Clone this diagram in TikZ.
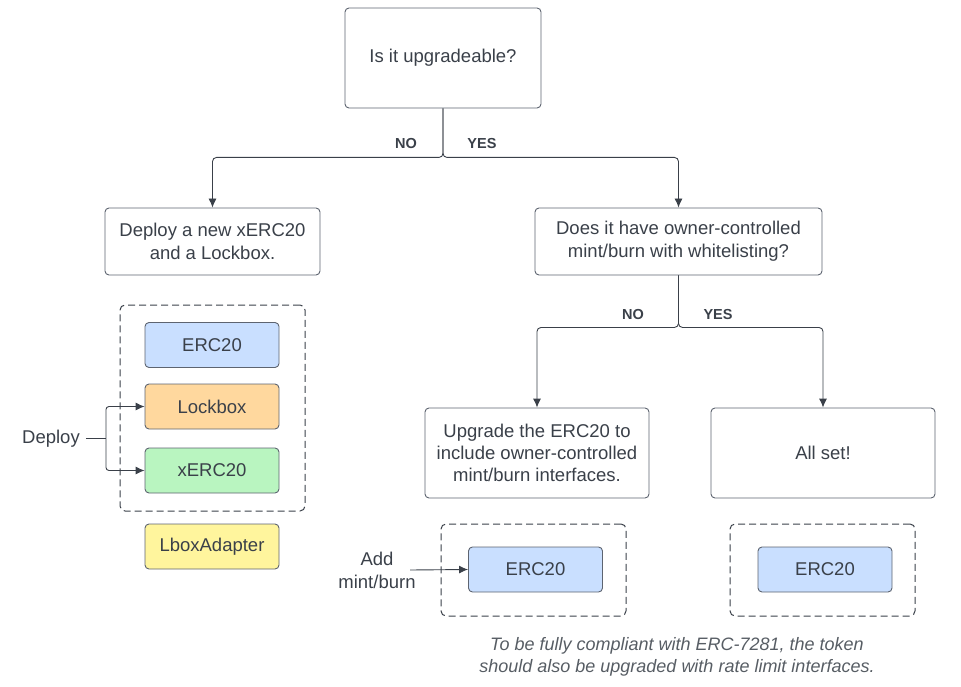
\documentclass[tikz,border=0pt]{standalone}
\usepackage{fontspec}
\setmainfont{Liberation Sans}
\usepackage{tikz}
\usetikzlibrary{arrows.meta}

\definecolor{ink}{HTML}{3A4049}
\definecolor{edge}{HTML}{5D6470}
\definecolor{bluefill}{HTML}{C9DFFF}
\definecolor{orangefill}{HTML}{FFD89E}
\definecolor{greenfill}{HTML}{B9F5C0}
\definecolor{yellowfill}{HTML}{FFF59D}

\begin{document}
\begin{tikzpicture}[x=1pt,y=-1pt]
\tikzset{Q/.style={draw=edge,line width=0.9pt,rounded corners=4pt,fill=white,
    text=ink,align=center,font=\fontsize{18.5}{23}\selectfont,inner sep=0pt},
  T/.style={draw=edge,line width=0.9pt,rounded corners=4pt,text=ink,
    minimum width=134pt,minimum height=45pt,inner sep=0pt,font=\fontsize{18.5}{21}\selectfont},
  G/.style={draw=ink,line width=1pt,dash pattern=on 7pt off 4pt,rounded corners=5pt,inner sep=0pt},
  L/.style={text=ink,font=\bfseries\fontsize{14.5}{16}\selectfont},
  arr/.style={draw=ink,line width=0.9pt,-{Latex[length=9pt,width=8pt]}}}

  \useasboundingbox (0,0) rectangle (961,687);

  % questions and answers
  \node[Q,minimum width=196pt,minimum height=100pt] (q1) at (443,58) {Is it upgradeable?};
  \node[Q,minimum width=215pt,minimum height=67pt] (newx) at (212.5,241.5) {Deploy a new xERC20\\and a Lockbox.};
  \node[Q,minimum width=287pt,minimum height=67pt] (q2) at (678.5,241.5) {Does it have owner-controlled\\mint/burn with whitelisting?};
  \node[Q,minimum width=224pt,minimum height=90pt,font=\fontsize{18.5}{22}\selectfont] (upg) at (537,453) {Upgrade the ERC20 to\\include owner-controlled\\mint/burn interfaces.};
  \node[Q,minimum width=224pt,minimum height=90pt] (allset) at (823,453) {All set!};

  \node[L] (no1) at (406,144) {NO};
  \node[L] (yes1) at (482,144) {YES};
  \node[L] (no2) at (633,315) {NO};
  \node[L] (yes2) at (718,315) {YES};

  \draw[arr,rounded corners=4pt] (q1.south) -- ++(0,49) -| (newx.north);
  \draw[arr,rounded corners=4pt] (q1.south) -- ++(0,49) -| (q2.north);
  \draw[arr,rounded corners=4pt] (q2.south) -- ++(0,52) -| (upg.north);
  \draw[arr,rounded corners=4pt] (q2.south) -- ++(0,52) -| (allset.north);

  % contracts
  \node[G,minimum width=185pt,minimum height=206pt] (g1) at (212.5,408) {};
  \node[T,fill=bluefill] (erca) at (212,345) {ERC20};
  \node[T,fill=orangefill] (lock) at (212,406.5) {Lockbox};
  \node[T,fill=greenfill] (xerc) at (212,470.5) {xERC20};
  \node[T,fill=yellowfill] (adapter) at (212,546.5) {LboxAdapter};

  \node[G,minimum width=185pt,minimum height=92pt] (g2) at (533.5,570) {};
  \node[T,fill=bluefill] (ercb) at (535.5,569.5) {ERC20};
  \node[G,minimum width=185pt,minimum height=92pt] (g3) at (822.5,570) {};
  \node[T,fill=bluefill] (ercc) at (825,569.5) {ERC20};

  \node[text=ink,font=\fontsize{18.5}{21}\selectfont,inner sep=0pt] (dep) at (51,438.5) {Deploy};
  \coordinate (fork) at (106,438.5);
  \draw[draw=ink,line width=0.9pt] (dep.east) ++(6,0) -- (fork);
  \draw[arr,rounded corners=3pt] (fork) |- (lock.west);
  \draw[arr,rounded corners=3pt] (fork) |- (xerc.west);

  \node[text=ink,align=center,font=\fontsize{18.5}{23}\selectfont,inner sep=0pt] (add) at (377,570.5) {Add\\mint/burn};
  \coordinate (addstart) at (410,570);
  \draw[arr] (addstart) -- (ercb.west);

  \node[text=ink!85,align=center,font=\itshape\fontsize{18}{22}\selectfont,inner sep=0pt] (note) at (677,657) {To be fully compliant with ERC-7281, the token\\should also be upgraded with rate limit interfaces.};
\end{tikzpicture}
\end{document}
